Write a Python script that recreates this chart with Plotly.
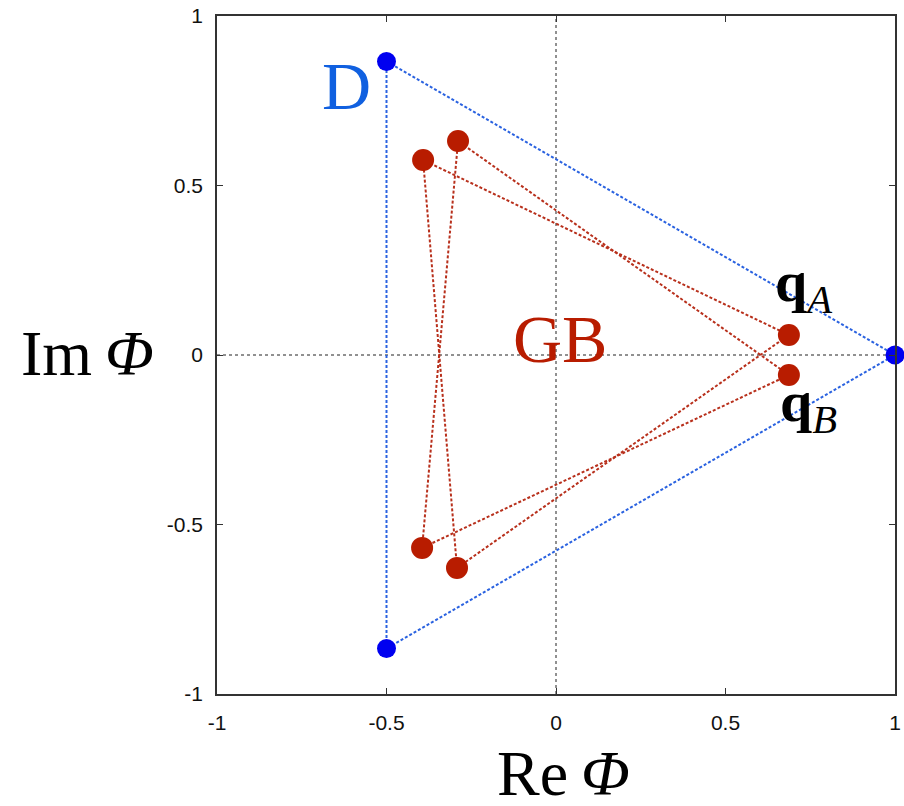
import plotly.graph_objects as go

# Data
blue_re = [-0.5, 1.0, -0.5]
blue_im = [0.866, 0.0, -0.866]

triA_re = [0.687, -0.392, -0.292]
triA_im = [0.059, 0.575, -0.628]

triB_re = [0.687, -0.289, -0.395]
triB_im = [-0.059, 0.631, -0.569]

tick_vals = [-1, -0.5, 0, 0.5, 1]
tick_text = ["-1", "-0.5", "0", "0.5", "1"]

BLUE_LINE = "#2a62e0"
BLUE_MARK = "#0000f0"
RED_LINE = "#b8301c"
RED_MARK = "#b81c00"

W, H = 904, 806
ML, MR, MT, MB = 217, 9, 16, 112


def closed(v):
    return list(v) + [v[0]]


fig = go.Figure()

fig.add_trace(go.Scatter(x=closed(blue_re), y=closed(blue_im), mode="lines",
                         line=dict(color=BLUE_LINE, width=2, dash="3px,2px"),
                         hoverinfo="skip", showlegend=False))
for xr, yi in [(triA_re, triA_im), (triB_re, triB_im)]:
    fig.add_trace(go.Scatter(x=closed(xr), y=closed(yi), mode="lines",
                             line=dict(color=RED_LINE, width=2, dash="3px,2px"),
                             hoverinfo="skip", showlegend=False))

fig.add_trace(go.Scatter(x=blue_re, y=blue_im, mode="markers", cliponaxis=False,
                         marker=dict(color=BLUE_MARK, size=19, line=dict(width=0)),
                         showlegend=False))
fig.add_trace(go.Scatter(x=triA_re + triB_re, y=triA_im + triB_im, mode="markers",
                         cliponaxis=False,
                         marker=dict(color=RED_MARK, size=22, line=dict(width=0)),
                         showlegend=False))

axis_common = dict(
    range=[-1, 1], tickvals=tick_vals, ticktext=tick_text,
    showline=True, linecolor="#333333", linewidth=1.5, mirror="ticks",
    ticks="inside", ticklen=6, tickcolor="#333333", tickwidth=1,
    showgrid=False, zeroline=False, automargin=False,
    tickfont=dict(family="Liberation Sans, Arial", size=21, color="#111111"),
)

serif = "Liberation Serif, Times New Roman, serif"


def px_to_paper(xp, yp):
    return (xp - ML) / (W - ML - MR), (H - MB - yp) / (H - MT - MB)


re_x, re_y = px_to_paper(563, 774)
im_x, im_y = px_to_paper(87, 353)

fig.update_layout(
    width=W, height=H,
    margin=dict(l=ML, r=MR, t=MT, b=MB, autoexpand=False),
    plot_bgcolor="white", paper_bgcolor="white",
    xaxis=dict(**axis_common, ticklabelstandoff=9),
    yaxis=dict(**axis_common, ticklabelstandoff=8),
    shapes=[
        dict(type="line", xref="x", yref="y", x0=-1, x1=1, y0=0, y1=0,
             line=dict(color="#222222", width=1, dash="dot"), layer="below"),
        dict(type="line", xref="x", yref="y", x0=0, x1=0, y0=-1, y1=1,
             line=dict(color="#222222", width=1, dash="dot"), layer="below"),
    ],
    annotations=[
        dict(text="D", x=-0.617, y=0.795, xref="x", yref="y", showarrow=False,
             xanchor="center", yanchor="middle",
             font=dict(family=serif, size=68, color="#1060e0")),
        dict(text="GB", x=0.012, y=0.048, xref="x", yref="y", showarrow=False,
             xanchor="center", yanchor="middle",
             font=dict(family=serif, size=68, color="#b81c00")),
        dict(text="<b>q</b><i><sub>A</sub></i>", x=0.64, y=0.205, xref="x", yref="y",
             xanchor="left", yanchor="middle", showarrow=False,
             font=dict(family=serif, size=58, color="black")),
        dict(text="<b>q</b><i><sub>B</sub></i>", x=0.655, y=-0.15, xref="x", yref="y",
             xanchor="left", yanchor="middle", showarrow=False,
             font=dict(family=serif, size=58, color="black")),
        dict(text="Re\u2009<i>Φ</i>", x=re_x, y=re_y, xref="paper", yref="paper",
             xanchor="center", yanchor="middle",
             showarrow=False, font=dict(family=serif, size=64, color="black")),
        dict(text="Im\u2009<i>Φ</i>", x=im_x, y=im_y, xref="paper", yref="paper",
             xanchor="center", yanchor="middle",
             showarrow=False, font=dict(family=serif, size=64, color="black")),
    ],
)

fig.write_html(
    "out.html",
    config={"displayModeBar": False},
    post_script="document.body.style.margin='0';document.body.style.overflow='hidden';",
)
